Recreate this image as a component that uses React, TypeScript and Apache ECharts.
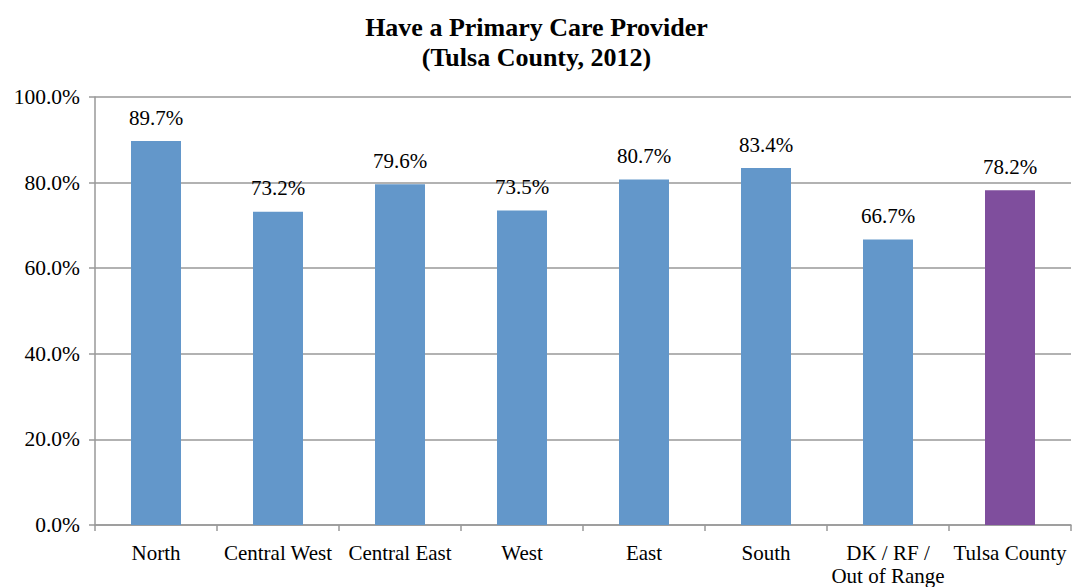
import React, { useEffect, useRef } from "react";
import * as echarts from "echarts";

const categories = ["North", "Central West", "Central East", "West", "East", "South", "DK / RF /\nOut of Range", "Tulsa County"];
const values = [89.7, 73.2, 79.6, 73.5, 80.7, 83.4, 66.7, 78.2];
const barColors = ["#6397CA", "#6397CA", "#6397CA", "#6397CA", "#6397CA", "#6397CA", "#6397CA", "#7F4E9D"];
const yTicks = [0, 20, 40, 60, 80, 100];

export default function App() {
  const ref = useRef<HTMLDivElement>(null);
  useEffect(() => {
    const chart = echarts.init(ref.current!, null, { renderer: "svg" });
    const font = "Liberation Serif";
    chart.setOption({
      animation: false,
      textStyle: { fontFamily: font },
      title: {
        text: "Have a Primary Care Provider\n(Tulsa County, 2012)",
        left: "center",
        top: 7,
        textStyle: { fontFamily: font, fontSize: 26, fontWeight: "bold", color: "#000", lineHeight: 30 },
      },
      grid: { left: 95, right: 2, top: 97, bottom: 62, containLabel: false },
      xAxis: {
        type: "category",
        data: categories,
        axisLine: { lineStyle: { color: "#999999", width: 1.5 } },
        axisTick: { show: true, alignWithLabel: false, length: 6, lineStyle: { color: "#999999", width: 1.5 } },
        axisLabel: { fontFamily: font, fontSize: 21, color: "#000", margin: 16, lineHeight: 23, interval: 0 },
        splitLine: { show: false },
      },
      yAxis: {
        type: "value",
        min: 0,
        max: 100,
        interval: 20,
        axisLine: { show: true, lineStyle: { color: "#999999", width: 1.5 } },
        axisTick: { show: true, length: 6, lineStyle: { color: "#999999", width: 1.5 } },
        axisLabel: {
          fontFamily: font,
          fontSize: 21.5,
          color: "#000",
          margin: 15,
          formatter: (v: number) => (yTicks.includes(v) ? v.toFixed(1) + "%" : ""),
        },
        splitLine: { show: true, lineStyle: { color: "#999999", width: 1.5 } },
      },
      series: [
        {
          type: "bar",
          barWidth: 50,
          data: values.map((v, i) => ({ value: v, itemStyle: { color: barColors[i] } })),
          label: {
            show: true,
            position: "top",
            distance: 13,
            fontFamily: font,
            fontSize: 21,
            color: "#000",
            formatter: (p: any) => p.value.toFixed(1) + "%",
          },
        },
      ],
    });
    return () => chart.dispose();
  }, []);
  return <div ref={ref} style={{ width: 1073, height: 587, position: "absolute", left: 0, top: 0, background: "#fff" }} />;
}
